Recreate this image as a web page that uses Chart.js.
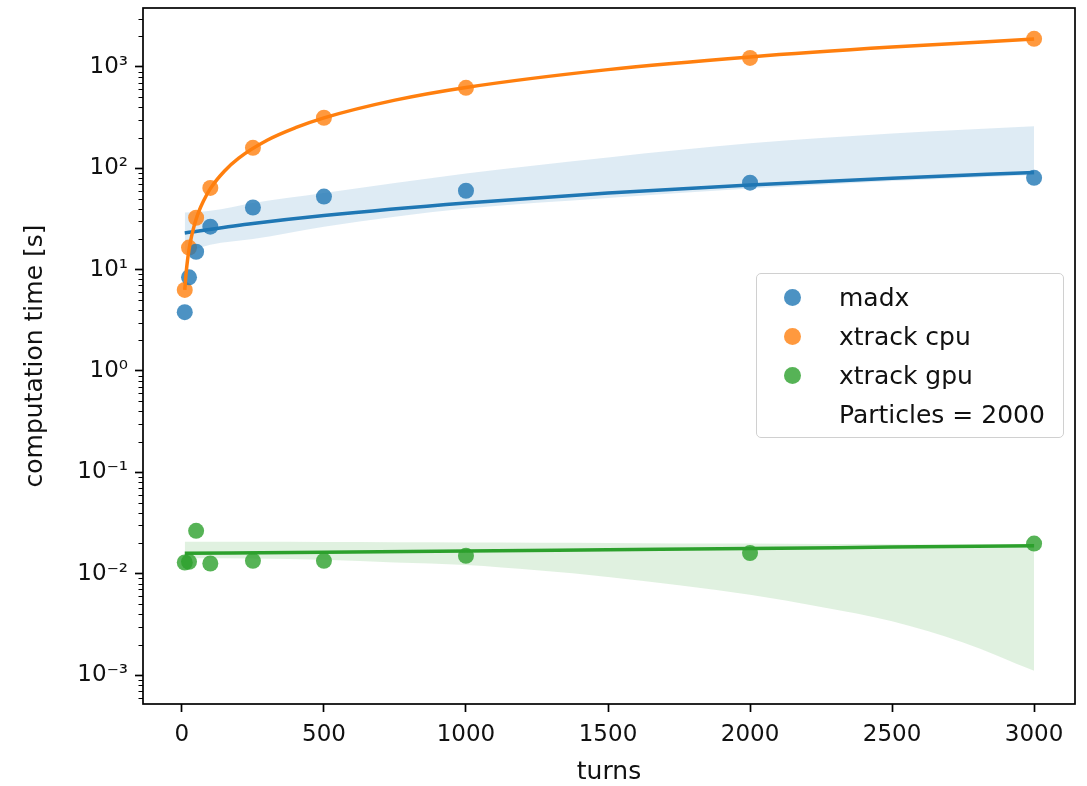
<!DOCTYPE html>
<html>
<head>
<meta charset="utf-8">
<title>computation time vs turns</title>
<script src="https://cdn.jsdelivr.net/npm/chart.js@4.4.1/dist/chart.umd.min.js"></script>
<style>
  html, body { margin: 0; padding: 0; background: #fff; }
  #wrap { position: relative; width: 1087px; height: 786px; font-family: "DejaVu Sans", sans-serif; }
  #legend {
    position: absolute; left: 756px; top: 273px; width: 306px; height: 163px;
    border: 1.5px solid #d0d0d0; border-radius: 5px; background: rgba(255,255,255,0.8);
  }
  .item { position: absolute; left: 0; height: 30px; line-height: 30px; font-size: 25px; color: #111; white-space: nowrap; }
  .item .dot { position: absolute; left: 27px; top: 6px; width: 17px; height: 17px; border-radius: 50%; }
  .item .txt { position: absolute; left: 82px; top: 0; }
</style>
</head>
<body>
<div id="wrap">
  <canvas id="chart" width="1087" height="786"></canvas>
  <div id="legend"></div>
</div>
<script>
// ---- data ----
const turns = [10, 25, 50, 100, 250, 500, 1000, 2000, 3000];
const madxTime = [3.8, 8.4, 15, 26.5, 41, 52.5, 60, 72, 80.5];
const cpuTime = [6.3, 16.5, 32.5, 64, 159, 315, 621, 1227, 1890];
const gpuTime = [0.0129, 0.0131, 0.0265, 0.0126, 0.0134, 0.0134, 0.0150, 0.0160, 0.0198];

// regression lines (seaborn regplot)
const cpuFitTurns = [10, 15, 20, 25, 30, 40, 50, 60, 75, 100, 150, 200, 300, 400, 500, 750, 1000, 1500, 2000, 2500, 3000];
const cpuFit = [6.3, 9.4, 12.6, 15.7, 18.9, 25.1, 31.4, 37.7, 47, 63, 94, 126, 189, 251, 314, 470, 627, 940, 1254, 1567, 1880];
const madxFitTurns = [10, 250, 500, 1000, 1500, 2000, 2500, 3000];
const madxFit = [23.0, 28.5, 34.2, 45.5, 57, 68.2, 79.6, 91];
const gpuFitTurns = [10, 500, 1000, 1500, 2000, 2500, 3000];
const gpuFit = [0.0159, 0.0163, 0.0167, 0.0172, 0.0177, 0.0183, 0.0189];

// confidence bands
const madxBandTurns = [10, 100, 250, 500, 1000, 1500, 2000, 2500, 3000];
const madxUpper = [36.5, 38, 45.5, 57, 89, 128, 176, 220, 259];
const madxLower = [14.5, 17.6, 20, 26.5, 40, 51, 63, 75, 86];
const gpuBandTurns = [10, 250, 500, 750, 1000, 1250, 1500, 1750, 2000, 2250, 2500, 2750, 3000];
const gpuUpper = [0.0207, 0.0206, 0.0205, 0.0204, 0.0203, 0.0202, 0.0201, 0.0199, 0.0198, 0.0196, 0.0195, 0.0193, 0.0192];
const gpuLower = [0.0142, 0.0141, 0.0137, 0.0129, 0.0122, 0.0108, 0.0093, 0.0077, 0.0062, 0.0047, 0.0034, 0.0021, 0.0011];

const seriesNames = ['madx', 'xtrack cpu', 'xtrack gpu'];
const legendNote = 'Particles = 2000';
const xTickValues = [0, 500, 1000, 1500, 2000, 2500, 3000];
const yTickValues = [1e-3, 1e-2, 1e-1, 1e0, 1e1, 1e2, 1e3];
const yTickLabels = ['10⁻³', '10⁻²', '10⁻¹', '10⁰', '10¹', '10²', '10³'];

const BLUE = '31,119,180', ORANGE = '255,127,14', GREEN = '44,160,44';

const pts = (xs, ys) => xs.map((x, i) => ({ x: x, y: ys[i] }));

// scatter + line helpers
function scatterSet(label, ys, rgb) {
  return {
    label: label, data: pts(turns, ys), showLine: false,
    pointRadius: 8, pointHoverRadius: 8, pointBorderWidth: 0,
    pointBackgroundColor: 'rgba(' + rgb + ',0.8)', order: 20
  };
}
function fitSet(xs, ys, rgb, order) {
  return {
    label: '', data: pts(xs, ys), borderColor: 'rgb(' + rgb + ')', borderWidth: 3.5,
    pointRadius: 0, cubicInterpolationMode: 'monotone', fill: false, order: order
  };
}
function bandSets(xs, upper, lower, rgb) {
  return [
    { label: '', data: pts(xs, upper), borderWidth: 0, pointRadius: 0,
      cubicInterpolationMode: 'monotone', fill: false, order: 30 },
    { label: '', data: pts(xs, lower), borderWidth: 0, pointRadius: 0,
      cubicInterpolationMode: 'monotone', fill: '-1',
      backgroundColor: 'rgba(' + rgb + ',0.15)', order: 30 }
  ];
}

// frame on all four sides + minor ticks on the log axis
const frameAndMinorTicks = {
  id: 'frameAndMinorTicks',
  afterDraw(chart) {
    const { ctx, chartArea: a } = chart;
    const y = chart.scales.y;
    ctx.save();
    ctx.strokeStyle = '#000';
    ctx.lineWidth = 1.2;
    ctx.beginPath();
    for (let e = -4; e <= 3; e++) {
      for (let m = 2; m <= 9; m++) {
        const v = m * Math.pow(10, e);
        if (v < y.min || v > y.max) continue;
        const py = Math.round(y.getPixelForValue(v)) + 0.5;
        ctx.moveTo(a.left, py);
        ctx.lineTo(a.left - 4.5, py);
      }
    }
    ctx.stroke();
    ctx.lineWidth = 1.7;
    ctx.strokeRect(a.left, a.top, a.right - a.left, a.bottom - a.top);
    ctx.restore();
  }
};

Chart.defaults.font.family = '"DejaVu Sans", sans-serif';
Chart.defaults.color = '#111';

new Chart(document.getElementById('chart'), {
  type: 'line',
  data: {
    datasets: [
      ...bandSets(madxBandTurns, madxUpper, madxLower, BLUE),
      ...bandSets(gpuBandTurns, gpuUpper, gpuLower, GREEN),
      scatterSet(seriesNames[0], madxTime, BLUE),
      scatterSet(seriesNames[1], cpuTime, ORANGE),
      scatterSet(seriesNames[2], gpuTime, GREEN),
      fitSet(madxFitTurns, madxFit, BLUE, 12),
      fitSet(cpuFitTurns, cpuFit, ORANGE, 11),
      fitSet(gpuFitTurns, gpuFit, GREEN, 10)
    ]
  },
  options: {
    responsive: false,
    animation: false,
    layout: { padding: { top: 7, right: 12, left: 0, bottom: 0 } },
    plugins: { legend: { display: false }, tooltip: { enabled: false } },
    scales: {
      x: {
        type: 'linear', min: -137, max: 3144,
        afterBuildTicks: (s) => { s.ticks = xTickValues.map(v => ({ value: v })); },
        afterFit: (s) => { s.height = 82; s.paddingLeft = 0; s.paddingRight = 0; },
        ticks: { callback: (v) => String(v), font: { size: 23 }, padding: 9, maxRotation: 0 },
        grid: { drawOnChartArea: false, tickLength: 8, tickColor: '#000', tickWidth: 1.7 },
        border: { display: false },
        title: { display: true, text: 'turns', font: { size: 25, lineHeight: 1.1 }, padding: { top: 0, bottom: 0 } }
      },
      y: {
        type: 'logarithmic', min: 5.18e-4, max: 3811,
        afterBuildTicks: (s) => { s.ticks = yTickValues.map(v => ({ value: v })); },
        afterFit: (s) => { s.width = 143; s.paddingTop = 0; s.paddingBottom = 0; },
        ticks: {
          callback: (v) => yTickLabels[yTickValues.findIndex(t => Math.abs(Math.log10(t) - Math.log10(v)) < 1e-6)],
          font: { size: 23 }, padding: 7, autoSkip: false
        },
        grid: { drawOnChartArea: false, tickLength: 8, tickColor: '#000', tickWidth: 1.7 },
        border: { display: false },
        title: { display: true, text: 'computation time [s]', font: { size: 25 }, padding: { top: 20, bottom: 20 } }
      }
    }
  },
  plugins: [frameAndMinorTicks]
});

// legend, inside the axes on the right
const legendColors = [BLUE, ORANGE, GREEN];
const legendRows = [9, 47.5, 86.5, 125.5];
const legendEl = document.getElementById('legend');
seriesNames.concat([legendNote]).forEach((name, i) => {
  const row = document.createElement('div');
  row.className = 'item';
  row.style.top = legendRows[i] + 'px';
  const dot = i < legendColors.length
    ? '<span class="dot" style="background:rgba(' + legendColors[i] + ',0.8)"></span>' : '';
  row.innerHTML = dot + '<span class="txt">' + name + '</span>';
  legendEl.appendChild(row);
});
</script>
</body>
</html>
